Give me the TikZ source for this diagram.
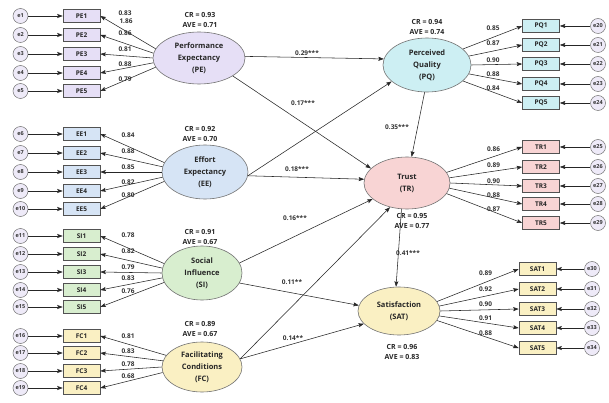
\documentclass[tikz,border=0pt]{standalone}
\usepackage{fontspec}
\setmainfont{Open Sans}
\usetikzlibrary{arrows.meta,shapes.geometric}
\definecolor{cPE}{HTML}{E6DFF6}
\definecolor{cEE}{HTML}{D6E4F5}
\definecolor{cSI}{HTML}{D8EECF}
\definecolor{cFC}{HTML}{FAF0C3}
\definecolor{cPQ}{HTML}{CDEFF3}
\definecolor{cTR}{HTML}{F8D4D4}
\definecolor{cSAT}{HTML}{FAF0C3}
\definecolor{cErr}{HTML}{EEEAF8}
\begin{document}
\begin{tikzpicture}[x=1pt,y=-1pt,
 ind/.style={draw=black!68, line width=0.6pt, minimum width=37pt, minimum height=13pt, inner sep=0pt, font=\fontsize{6.5}{7}\selectfont\bfseries, text=black!85},
 err/.style={circle, draw=black!55, fill=cErr, line width=0.5pt, minimum size=15pt, inner sep=0pt, font=\fontsize{5.5}{6}\selectfont\bfseries, text=black!80},
 lat/.style={ellipse, draw=black!55, line width=0.6pt, inner sep=0pt, align=center, font=\fontsize{7.5}{12}\selectfont\bfseries, text=black!85},
 arr/.style={-{Stealth[length=5.5pt,width=4pt,inset=1pt]}, line width=0.55pt, draw=black!85},
 lab/.style={font=\fontsize{6.5}{7}\selectfont\bfseries, text=black!80, inner sep=0pt},
 crl/.style={font=\fontsize{7}{10}\selectfont\bfseries, text=black!85, align=center, inner sep=0pt},
]
\useasboundingbox (0,0) rectangle (609,403);
\fill[white] (0,0) rectangle (609,403);

% latent variables
\node[lat, fill=cPE, minimum width=92pt, minimum height=52pt] (PE) at (199,58) {Performance\\Expectancy\\(PE)};
\node[lat, fill=cEE, minimum width=86pt, minimum height=54pt] (EE) at (205,172) {Effort\\Expectancy\\(EE)};
\node[lat, fill=cSI, minimum width=80pt, minimum height=54pt] (SI) at (202,273) {Social\\Influence\\(SI)};
\node[lat, fill=cFC, minimum width=80pt, minimum height=50pt] (FC) at (202,367) {Facilitating\\Conditions\\(FC)};
\node[lat, fill=cPQ, minimum width=88pt, minimum height=54pt] (PQ) at (427,65) {Perceived\\Quality\\(PQ)};
\node[lat, fill=cTR, minimum width=86pt, minimum height=52pt] (TR) at (407,183) {Trust\\(TR)};
\node[lat, fill=cSAT, minimum width=82pt, minimum height=48pt] (SAT) at (399,311) {Satisfaction\\(SAT)};

% CR / AVE
\node[crl] (crPE) at (200,20) {CR = 0.93\\AVE = 0.71};
\node[crl] (crEE) at (200,134.5) {CR = 0.92\\AVE = 0.70};
\node[crl] (crSI) at (200,237) {CR = 0.91\\AVE = 0.67};
\node[crl] (crFC) at (200,329.5) {CR = 0.89\\AVE = 0.67};
\node[crl] (crPQ) at (427,27) {CR = 0.94\\AVE = 0.74};
\node[crl] (crTR) at (412,221) {CR = 0.95\\AVE = 0.77};
\node[crl] (crSAT) at (402,352) {CR = 0.96\\AVE = 0.83};

% left indicators
\foreach \n/\y/\e/\a/\l/\ly in {1/16/1/168/0.83/13,2/35/2/174/0.86/33,3/54/3/180/0.81/49,4/73/4/186/0.88/64,5/91/5/192/0.79/79}{
  \node[err] (e\e) at (20.5,\y) {e\e};
  \node[ind, fill=cPE] (PE\n) at (81.5,\y) {PE\n};
  \draw[arr] (e\e) -- (PE\n);
  \draw[arr] (PE.\a) -- (PE\n.east);
  \node[lab] (lPE\n) at (125,\ly) {\l};
}
\node[lab] (lPEx) at (126,21) {1.86};
\foreach \n/\y/\e/\a/\l/\ly in {1/134/6/167/0.84/135,2/153/7/173/0.88/151,3/172/8/180/0.85/167,4/191/9/187/0.82/182,5/209/10/193/0.80/195}{
  \node[err] (e\e) at (20.5,\y) {e\e};
  \node[ind, fill=cEE] (EE\n) at (81.5,\y) {EE\n};
  \draw[arr] (e\e) -- (EE\n);
  \draw[arr] (EE.\a) -- (EE\n.east);
  \node[lab] (lEE\n) at (128,\ly) {\l};
}
\foreach \n/\y/\e/\a/\l/\ly in {1/236/11/166/0.78/235,2/254/12/173/0.82/251,3/272/13/180/0.79/267,4/290/14/187/0.83/278,5/307/15/194/0.76/291}{
  \node[err] (e\e) at (20.5,\y) {e\e};
  \node[ind, fill=cSI] (SI\n) at (81.5,\y) {SI\n};
  \draw[arr] (e\e) -- (SI\n);
  \draw[arr] (SI.\a) -- (SI\n.east);
  \node[lab] (lSI\n) at (128,\ly) {\l};
}
\foreach \n/\y/\e/\a/\l/\ly in {1/336/16/162/0.81/336,2/353/17/171/0.83/351,3/371/18/180/0.78/364,4/388/19/188/0.68/376}{
  \node[err] (e\e) at (20.5,\y) {e\e};
  \node[ind, fill=cFC] (FC\n) at (81.5,\y) {FC\n};
  \draw[arr] (e\e) -- (FC\n);
  \draw[arr] (FC.\a) -- (FC\n.east);
  \node[lab] (lFC\n) at (128,\ly) {\l};
}

% right indicators
\foreach \n/\y/\e/\a/\l/\ly in {1/26/20/24/0.85/28,2/45/21/12/0.87/43,3/64/22/0/0.90/60,4/84/23/-12/0.88/74,5/103/24/-24/0.84/88}{
  \node[err] (e\e) at (598,\y) {e\e};
  \node[ind, fill=cPQ] (PQ\n) at (541,\y) {PQ\n};
  \draw[arr] (e\e) -- (PQ\n);
  \draw[arr] (PQ.\a) -- (PQ\n.west);
  \node[lab] (lPQ\n) at (493,\ly) {\l};
}
\foreach \n/\y/\e/\a/\l/\ly in {1/147/25/15/0.86/149,2/167/26/7/0.89/165,3/186/27/0/0.90/181,4/204/28/-7/0.88/195,5/223/29/-15/0.87/209}{
  \node[err] (e\e) at (598,\y) {e\e};
  \node[ind, fill=cTR] (TR\n) at (541,\y) {TR\n};
  \draw[arr] (e\e) -- (TR\n);
  \draw[arr] (TR.\a) -- (TR\n.west);
  \node[lab] (lTR\n) at (493.5,\ly) {\l};
}
\foreach \n/\y/\e/\a/\l/\ly in {1/269/30/14/0.89/273,2/289/31/7/0.92/289,3/309/32/0/0.90/304,4/328/33/-7/0.91/318,5/348/34/-14/0.88/333}{
  \node[err] (e\e) at (592,\y) {e\e};
  \node[ind, fill=cSAT] (SAT\n) at (537.5,\y) {SAT\n};
  \draw[arr] (e\e) -- (SAT\n);
  \draw[arr] (SAT.\a) -- (SAT\n.west);
  \node[lab] (lSAT\n) at (485.5,\ly) {\l};
}

% structural paths
\draw[arr] (PE.2) -- (PQ.172);
\draw[arr] (PE.-28) -- (TR.158);
\draw[arr] (EE.-5) -- (PQ.205);
\draw[arr] (EE.-5) -- (TR.175);
\draw[arr] (SI.15) -- (TR.205);
\draw[arr] (SI.-15) -- (SAT.172);
\draw[arr] (FC.12) -- (TR.235);
\draw[arr] (FC.12) -- (SAT.200);
\draw[arr] (PQ.265) -- (TR.80);
\draw[arr] (TR.258) -- (SAT.97);

\node[lab] (p1) at (307,53) {0.29***};
\node[lab] (p2) at (303,103) {0.17***};
\node[lab] (p3) at (297,169) {0.18***};
\node[lab] (p4) at (295,218) {0.16***};
\node[lab] (p5) at (292,282) {0.11**};
\node[lab] (p6) at (293,338) {0.14**};
\node[lab] (p7) at (397,127) {0.35***};
\node[lab] (p8) at (408,253) {0.41***};
\end{tikzpicture}
\end{document}
